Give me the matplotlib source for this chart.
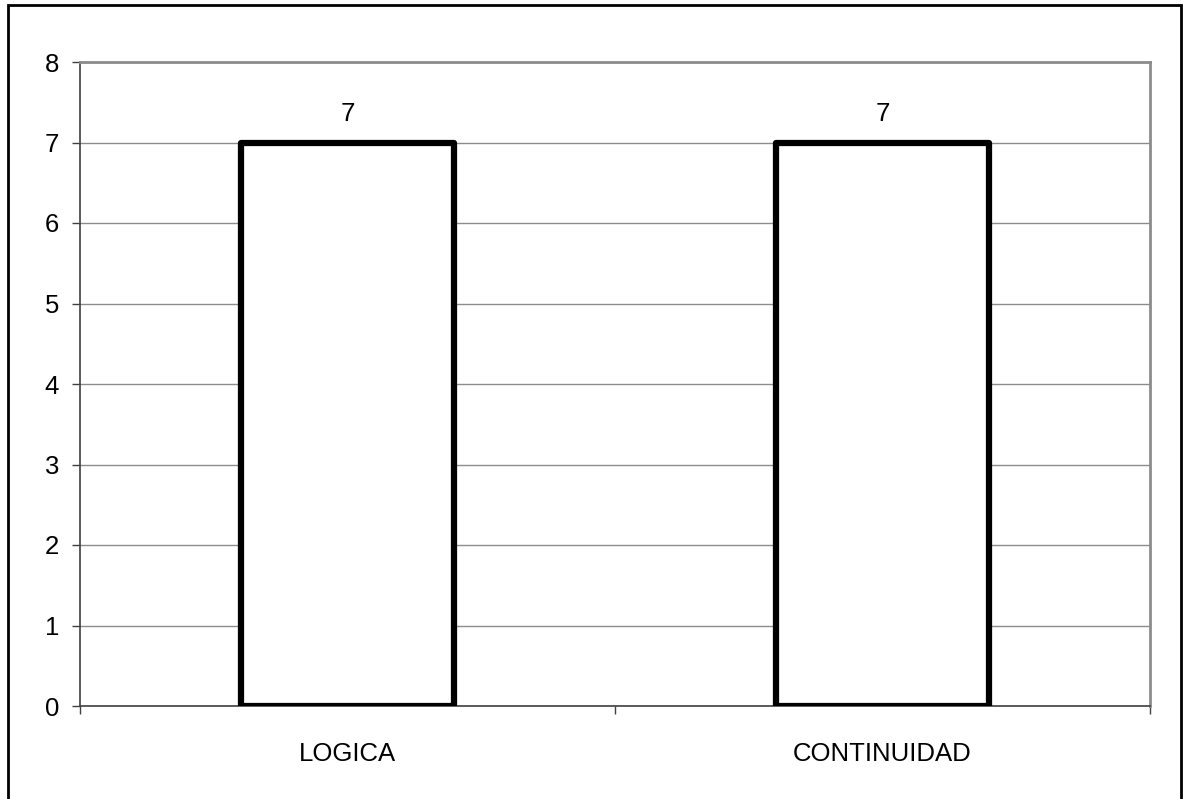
import matplotlib
matplotlib.use("Agg")
import matplotlib.pyplot as plt
from matplotlib.patches import Rectangle

categories = ["LOGICA", "CONTINUIDAD"]
values = [7, 7]
yticks = [0, 1, 2, 3, 4, 5, 6, 7, 8]

plt.rcParams['font.family'] = ['Liberation Sans', 'DejaVu Sans']

W, H = 1183, 799
FS = 18.5
fig = plt.figure(figsize=(W / 100, H / 100), dpi=100)
ax = fig.add_axes([80 / W, 1 - 706 / H, (1150 - 80) / W, (706 - 62) / H])

x = list(range(len(categories)))
bars = ax.bar(x, values, width=0.398, facecolor="white", edgecolor="black",
              linewidth=4.5, zorder=3, joinstyle="round")
for xi, v in zip(x, values):
    ax.annotate(f"{v}", (xi, v), xytext=(0, 12), textcoords="offset points",
                ha="center", va="bottom", fontsize=FS)

ax.set_xlim(-0.5, len(categories) - 0.5)
ax.set_ylim(0, 8)
ax.set_yticks(yticks)
ax.set_yticklabels([str(t) for t in yticks], fontsize=FS)
ax.set_xticks(x)
ax.set_xticklabels(categories, fontsize=FS)
ax.tick_params(axis="x", length=0, pad=26)
ax.set_xticks([-0.5, 0.5, 1.5], minor=True)
ax.tick_params(axis="x", which="minor", length=6, width=1, color="#404040", direction="out")
ax.tick_params(axis="y", length=6, width=1, color="#404040", pad=9, direction="out")

ax.yaxis.grid(True, color="#8c8c8c", linewidth=1)
ax.set_axisbelow(True)
for s in ["top", "right"]:
    ax.spines[s].set_color("#8c8c8c")
    ax.spines[s].set_linewidth(2)
for s in ["left", "bottom"]:
    ax.spines[s].set_color("#404040")
    ax.spines[s].set_linewidth(1.2)

border = Rectangle((8 / W, -0.02), (1181 - 8) / W, 1 - 5 / H + 0.02,
                   transform=fig.transFigure, fill=False, edgecolor="black",
                   linewidth=2, zorder=10)
fig.add_artist(border)

fig.savefig("out.png", dpi=100, facecolor="white")
